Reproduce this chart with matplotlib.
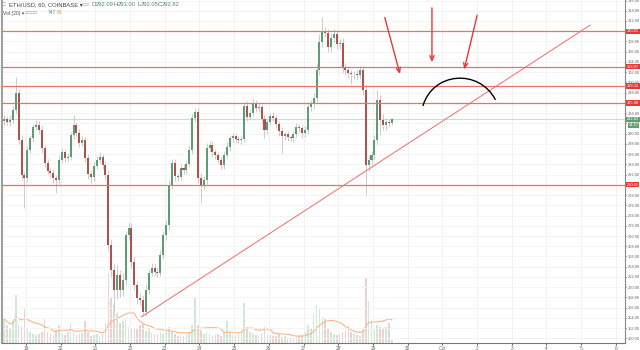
import matplotlib
matplotlib.use("Agg")
import matplotlib.pyplot as plt
import matplotlib.dates as mdates
import matplotlib.transforms as mtransforms
from matplotlib.path import Path
from matplotlib.patches import PathPatch
import numpy as np
import pandas as pd

plt.rcParams["font.family"] = ["Liberation Sans", "DejaVu Sans"]

# ETH/USD 2h candles, 18 Sep 2017 08:00 onward
start = pd.Timestamp("2017-09-18 08:00")
closes = [
    292.9, 292.3, 292.7, 294.6, 297.9, 288.8, 281.9, 281.3, 286.8, 289.1,
    291.3, 291.7, 290.7, 287.2, 284.3, 282.7, 282.3, 281.3, 281.0, 284.9,
    286.4, 285.2, 285.4, 289.7, 291.7, 290.1, 288.2, 288.8, 285.2, 282.1,
    281.5, 283.7, 284.9, 285.4, 283.9, 281.9, 268.3, 263.4, 259.5, 262.4,
    259.5, 261.4, 270.2, 271.6, 264.9, 260.4, 257.9, 257.5, 255.2, 259.5,
    262.8, 263.8, 263.0, 262.8, 266.3, 270.2, 272.2, 280.0, 284.3, 281.7,
    281.5, 283.3, 282.9, 284.1, 286.8, 293.1, 294.2, 281.3, 279.8, 281.0,
    287.2, 287.8, 286.4, 285.8, 284.9, 283.9, 285.8, 287.4, 289.1, 289.5,
    289.0, 288.8, 289.0, 295.4, 293.3, 294.0, 296.0, 295.0, 295.2, 292.9,
    290.7, 292.3, 293.4, 293.1, 291.9, 290.5, 289.5, 289.9, 289.3, 289.1,
    289.9, 291.3, 291.1, 290.1, 290.7, 295.2, 295.8, 297.0, 302.4, 307.9,
    309.9, 309.7, 306.9, 308.7, 309.5, 307.5, 307.7, 303.0, 302.4, 301.8,
    301.6, 301.6, 301.4, 302.4, 298.5, 283.9, 284.9, 285.8, 288.8, 296.6,
    292.7, 291.7, 292.3, 292.0, 292.82]
first_open = 292.5
upper_wick = [
    0.8, 0.6, 0.9, 0.7, 3.1, 0.8, 0.9, 0.6, 0.8, 0.7,
    0.6, 0.9, 0.7, 0.8, 0.6, 0.7, 0.5, 0.8, 0.6, 0.9,
    0.7, 0.6, 0.8, 0.7, 1.9, 0.6, 0.8, 0.7, 0.6, 0.9,
    0.6, 0.7, 0.8, 1.0, 0.6, 0.7, 0.9, 1.2, 1.4, 2.0,
    1.0, 1.3, 0.8, 1.1, 0.9, 1.2, 0.8, 1.0, 0.9, 1.1,
    0.8, 0.9, 0.7, 0.8, 0.9, 0.7, 1.0, 0.9, 0.8, 0.7,
    0.6, 0.8, 0.7, 0.6, 0.9, 0.8, 0.8, 0.9, 1.0, 0.8,
    0.9, 0.7, 0.8, 0.6, 0.7, 0.6, 0.8, 0.9, 0.7, 0.6,
    0.7, 0.6, 0.5, 0.8, 0.9, 0.7, 0.8, 0.6, 0.7, 0.6,
    0.8, 0.7, 0.6, 0.8, 0.5, 0.6, 0.7, 0.5, 0.6, 0.5,
    0.6, 0.7, 0.5, 0.6, 0.7, 0.9, 0.8, 1.0, 1.2, 1.5,
    2.9, 1.0, 0.8, 0.9, 1.0, 0.7, 0.8, 0.9, 0.7, 0.8,
    0.6, 0.7, 0.8, 0.9, 0.8, 0.9, 1.0, 0.8, 1.0, 1.9,
    0.9, 1.2, 0.8, 0.6, 0.3]
lower_wick = [
    0.9, 0.7, 0.8, 0.6, 0.8, 0.9, 1.0, 5.8, 0.7, 0.6,
    0.8, 0.6, 0.7, 0.9, 0.8, 0.6, 0.7, 0.9, 2.6, 0.8,
    0.6, 0.8, 0.7, 0.6, 0.8, 0.7, 0.9, 0.6, 0.8, 1.0,
    1.2, 0.8, 0.7, 0.6, 0.8, 0.9, 1.2, 1.5, 4.0, 1.8,
    1.5, 1.2, 1.0, 0.9, 1.1, 1.0, 1.2, 1.0, 0.9, 0.8,
    0.9, 0.7, 0.8, 0.9, 0.7, 0.8, 0.9, 1.0, 0.8, 0.9,
    0.7, 0.6, 0.8, 0.7, 0.6, 0.8, 0.9, 1.0, 3.3, 0.9,
    0.8, 0.7, 0.9, 0.8, 0.7, 0.9, 0.8, 0.6, 0.7, 0.8,
    0.6, 0.7, 0.8, 0.6, 0.9, 0.7, 0.6, 0.8, 0.7, 0.9,
    1.5, 0.8, 0.6, 0.7, 0.8, 0.9, 3.3, 0.7, 0.8, 0.6,
    0.7, 0.6, 0.8, 0.9, 0.7, 0.8, 0.7, 0.9, 0.8, 1.0,
    0.9, 0.8, 1.0, 0.9, 0.8, 0.9, 1.0, 1.1, 0.9, 1.0,
    2.0, 0.9, 1.0, 0.8, 1.0, 5.9, 1.2, 1.0, 0.9, 0.8,
    3.0, 1.0, 0.9, 0.7, 0.3]
# volume (hundreds of ETH)
volume = [
    24, 18, 14, 22, 48, 18, 16, 34, 14, 11,
    9, 8, 9, 11, 25, 11, 9, 8, 13, 18,
    9, 8, 11, 20, 11, 8, 9, 10, 22, 11,
    7, 8, 9, 7, 9, 20, 70, 45, 38, 30,
    20, 22, 25, 16, 14, 15, 14, 18, 20, 12,
    15, 10, 9, 8, 11, 9, 12, 16, 11, 9,
    7, 8, 7, 9, 11, 18, 45, 18, 13, 9,
    11, 9, 7, 8, 9, 7, 11, 22, 11, 8,
    7, 9, 11, 40, 16, 11, 9, 8, 7, 9,
    16, 9, 8, 7, 7, 9, 6, 7, 5, 6,
    5, 6, 7, 8, 11, 18, 15, 30, 38, 34,
    26, 25, 14, 11, 9, 8, 9, 11, 13, 18,
    11, 9, 8, 7, 13, 65, 42, 22, 13, 18,
    16, 14, 16, 20, 3]

levels = [310.01, 303.07, 299.32, 295.98, 280.05]
last_price = 292.82
countdown = "54:37"
y_ticks = list(range(250, 317, 2))
day_ticks = ["2017-09-%02d" % d for d in range(19, 31)] + ["2017-10-%02d" % d for d in range(1, 7)]
day_labels = [str(d) for d in range(19, 31)] + ["Oct", "2", "3", "4", "5", "6"]

# drawings, as (day of September, price)
trend_line = [(22.33, 254.2), (35.26, 311.2)]
arrows = [((29.32, 313.2), (29.80, 301.1)),
          ((30.70, 315.1), (30.70, 303.4)),
          ((32.02, 313.6), (31.61, 302.0))]
arc = [(30.44, 295.4), (30.72, 302.0), (32.05, 302.8), (32.53, 296.6)]

UP, DOWN = "#5d9c74", "#b0524b"
VUP, VDOWN = "#cfe7d5", "#ebd2d2"

base = mdates.date2num(pd.Timestamp("2017-09-01"))


def sep(d):
    return base + d - 1


closes = np.array(closes)
opens = np.concatenate([[first_open], closes[:-1]])
highs = np.maximum(opens, closes) + np.array(upper_wick)
lows = np.minimum(opens, closes) - np.array(lower_wick)
times = mdates.date2num(start + pd.to_timedelta(np.arange(len(closes)) * 2 + 1, unit="h"))
up = closes >= opens
w = 2 / 24

fig = plt.figure(figsize=(6.4, 3.5), dpi=100)
ax = fig.add_axes([0.003, 0.021, 0.974, 0.979])
ax.set_ylim(249.17, 316.1)
ax.set_xlim(sep(18.31), sep(36.27))

for t in mdates.date2num(pd.to_datetime(day_ticks)):
    ax.axvline(t, color="#efefef", lw=0.6, zorder=0)
for y in y_ticks:
    ax.axhline(y, color="#f3f3f3", lw=0.6, zorder=0)

# volume pane
axv = ax.twinx()
axv.set_ylim(0, 342.7)
axv.bar(times, volume, width=w * 0.55, color=np.where(up, VUP, VDOWN), zorder=1)
ma = pd.Series(volume).rolling(10, min_periods=1).mean()
axv.plot(times, ma, color="#f7b690", lw=0.8, zorder=2)
axv.set_yticks([])
for s in axv.spines.values():
    s.set_visible(False)
ax.set_zorder(axv.get_zorder() + 1)
ax.patch.set_visible(False)

# candles
ax.vlines(times, lows, highs, color="#c4c4c4", lw=0.6, zorder=2)
ax.bar(times, closes - opens, bottom=opens, width=w * 0.7,
       color=np.where(up, UP, DOWN), lw=0, zorder=3)

for lv in levels:
    ax.axhline(lv, color="#eb7070", lw=0.9, zorder=4)
ax.axhline(last_price, color="#bcdcc6", lw=0.6, zorder=1)

ax.plot([sep(p[0]) for p in trend_line], [p[1] for p in trend_line],
        color="#ef6b6b", lw=0.7, zorder=4)
for tail, head in arrows:
    ax.annotate("", xy=(sep(head[0]), head[1]), xytext=(sep(tail[0]), tail[1]),
                arrowprops=dict(arrowstyle="->,head_length=0.35,head_width=0.15",
                                color="#e53935", lw=1.0), zorder=5)
verts = [(sep(d), p) for d, p in arc]
ax.add_patch(PathPatch(Path(verts, [Path.MOVETO, Path.CURVE4, Path.CURVE4, Path.CURVE4]),
                       fill=False, color="black", lw=1.0, zorder=5))

# axes styling
ax.yaxis.tick_right()
ax.set_yticks(y_ticks)
ax.set_yticklabels(["%.2f" % y for y in y_ticks])
ax.set_xticks(mdates.date2num(pd.to_datetime(day_ticks)))
ax.set_xticklabels(day_labels)
ax.tick_params(axis="y", labelsize=2.9, colors="#666", length=1.0, pad=0.6)
ax.tick_params(axis="x", labelsize=3.4, colors="#666", length=1.5, pad=0.8)
ax.spines["top"].set_visible(False)
ax.spines["left"].set_color("#a0a0a0")
ax.spines["left"].set_linewidth(1.5)
ax.spines["bottom"].set_color("#777")
ax.spines["right"].set_color("#888")

tr = mtransforms.blended_transform_factory(ax.transAxes, ax.transData)
for lv in levels:
    ax.text(1.0025, lv, "%.2f" % lv, transform=tr, fontsize=2.9, color="white",
            va="center", ha="left", zorder=6,
            bbox=dict(boxstyle="square,pad=0.15", fc="#e53935", ec="none"))
ax.text(1.0025, last_price, "%.2f" % last_price, transform=tr, fontsize=2.9, color="white",
        va="center", ha="left", zorder=6,
        bbox=dict(boxstyle="square,pad=0.15", fc="#5f9e72", ec="none"))
ax.text(1.005, last_price - 1.2, countdown, transform=tr, fontsize=2.9, color="white",
        va="center", ha="left", zorder=6,
        bbox=dict(boxstyle="square,pad=0.15", fc="#5f9e72", ec="none"))

# header legend
fs = 4.2
fig.text(9 / 640, 1 - 5 / 350, "ETH/USD, 60, COINBASE \u25be", fontsize=fs, color="#444", va="center")
fig.text(2 / 640, 1 - 5 / 350, "\u25a1", fontsize=fs, color="#999", va="center")
fig.text(83 / 640, 1 - 5 / 350, "\u25a1\u25a1", fontsize=fs - 0.6, color="#aaa", va="center")
ohlc = [("O", "292.09", 92), ("H", "293.00", 114), ("L", "292.05", 137), ("C", "292.82", 158)]
for letter, val, px in ohlc:
    fig.text(px / 640, 1 - 5 / 350, letter, fontsize=fs, color="#666", va="center")
    fig.text((px + 3.3) / 640, 1 - 5 / 350, val, fontsize=fs, color="#4f8f63", va="center")
fig.text(3 / 640, 1 - 13 / 350, "Vol (20) \u25be", fontsize=fs - 0.6, color="#555", va="center")
fig.text(25 / 640, 1 - 13 / 350, "\u25a1\u25a1\u25a1\u25a1", fontsize=fs - 0.6, color="#aaa", va="center")
fig.text(48 / 640, 1 - 13 / 350, "747", fontsize=fs - 0.6, color="#4f9a63", va="center")
fig.text(57 / 640, 1 - 13 / 350, "86", fontsize=fs - 0.6, color="#f08a4b", va="center")

fig.savefig("out.png", dpi=100)
